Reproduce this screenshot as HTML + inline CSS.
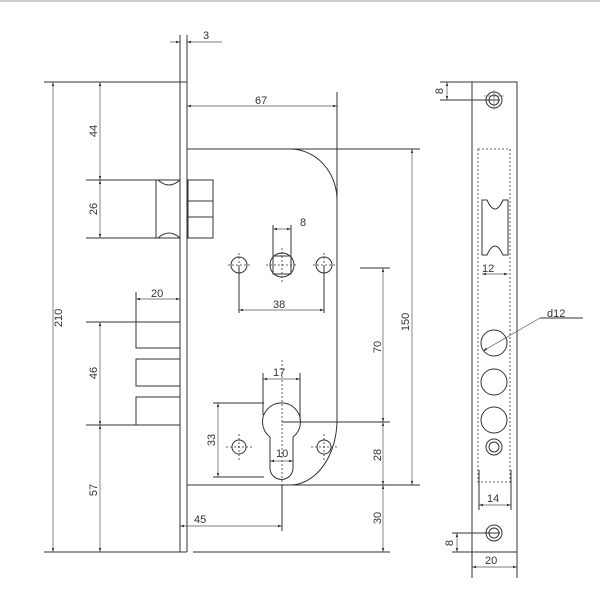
<!DOCTYPE html>
<html><head><meta charset="utf-8"><style>
html,body{margin:0;padding:0;background:#fff;}
svg{display:block}
text{font-family:"Liberation Sans",sans-serif;font-size:11px;fill:#333}
</style></head><body>
<svg width="600" height="600" viewBox="0 0 600 600" xmlns="http://www.w3.org/2000/svg">
<defs>
<marker id="a" viewBox="0 0 10 10" refX="10" refY="5" markerWidth="6" markerHeight="6" orient="auto-start-reverse"><path d="M0,2 L10,5 L0,8z" fill="#333"/></marker>
</defs>
<line x1="0" y1="1" x2="600" y2="1" stroke="#ccc" stroke-width="2"/>
<g stroke="#333" stroke-width="1" fill="none">
<!-- front plate -->
<line x1="180" y1="35" x2="180" y2="552"/>
<line x1="187" y1="35" x2="187" y2="552"/>
<!-- ext lines -->
<line x1="44" y1="82" x2="187" y2="82"/>
<line x1="44" y1="552" x2="187" y2="552"/>
<line x1="193" y1="552" x2="390" y2="552"/>
<!-- bolt -->
<line x1="86" y1="180" x2="180" y2="180"/>
<line x1="86" y1="238" x2="180" y2="238"/>
<line x1="156" y1="180" x2="156" y2="238"/>
<path d="M158,180 Q169,190 180,180 M158,238 Q169,228 180,238"/>
<rect x="188" y="180" width="25" height="58"/>
<line x1="188" y1="201" x2="213" y2="201"/><line x1="188" y1="217" x2="213" y2="217"/>
<!-- case -->
<path d="M187,149 H290 A47,51 0 0 1 337,200 V420 A47,65 0 0 1 290,485 H187"/>
<line x1="290" y1="149" x2="420" y2="149"/>
<line x1="290" y1="485" x2="420" y2="485"/>
<line x1="337" y1="92" x2="337" y2="200"/>
<!-- latches -->
<line x1="86" y1="322" x2="136" y2="322"/>
<line x1="86" y1="425" x2="136" y2="425"/>
<rect x="136" y="322" width="44" height="26"/>
<rect x="136" y="359" width="44" height="27"/>
<rect x="136" y="397" width="44" height="28"/>
<line x1="136" y1="292" x2="136" y2="322"/>
<!-- top holes -->
<circle cx="239" cy="265" r="8"/>
<circle cx="282" cy="265" r="12"/>
<rect x="273" y="256" width="18" height="18"/>
<circle cx="324" cy="265" r="8"/>
<line x1="239" y1="265" x2="239" y2="313"/>
<line x1="324" y1="265" x2="324" y2="313"/>
<line x1="273" y1="225" x2="273" y2="256"/>
<line x1="291" y1="225" x2="291" y2="256"/>
<!-- cylinder -->
<path d="M270,437 A19,19 0 1 1 293,437 V468 A11.5,11.5 0 0 1 270,468 Z"/>
<line x1="263" y1="373" x2="263" y2="415"/>
<line x1="300" y1="373" x2="300" y2="420"/>
<line x1="213" y1="403" x2="264" y2="403"/>
<line x1="213" y1="477" x2="264" y2="477"/>
<circle cx="239" cy="447" r="7"/>
<circle cx="324" cy="447" r="7"/>
<line x1="282" y1="422" x2="390" y2="422"/>
<line x1="282" y1="485" x2="282" y2="531"/>
<line x1="360" y1="268" x2="390" y2="268"/>
<!-- strip -->
<rect x="472" y="82" width="45" height="470"/>
<circle cx="494" cy="100" r="8"/><circle cx="494" cy="100" r="5"/>
<circle cx="494" cy="533" r="8"/><circle cx="494" cy="533" r="5"/>
<circle cx="494" cy="447" r="8"/><circle cx="494" cy="447" r="5"/>
<circle cx="494" cy="343" r="13"/>
<circle cx="494" cy="382" r="13"/>
<circle cx="494" cy="420" r="13"/>
<path d="M482,200 H487 Q495,218 503,200 H508 V255 H503 Q495,237 487,255 H482 Z"/>
<line x1="440" y1="82" x2="472" y2="82"/>
<line x1="440" y1="100" x2="500" y2="100"/>
<line x1="452" y1="533" x2="500" y2="533"/>
<line x1="452" y1="552" x2="472" y2="552"/>
<line x1="472" y1="552" x2="472" y2="578"/>
<line x1="517" y1="552" x2="517" y2="578"/>
<line x1="479" y1="470" x2="479" y2="510"/>
<line x1="511" y1="470" x2="511" y2="510"/>
<line x1="583" y1="318" x2="540" y2="318"/>
</g>
<g stroke="#333" stroke-width="0.8" stroke-dasharray="2,2" fill="none">
<rect x="478" y="149" width="32" height="333"/>
<line x1="282" y1="360" x2="282" y2="485"/>
<line x1="228" y1="265" x2="250" y2="265"/><line x1="239" y1="253" x2="239" y2="277"/>
<line x1="313" y1="265" x2="335" y2="265"/><line x1="324" y1="253" x2="324" y2="277"/>
<line x1="266" y1="265" x2="298" y2="265"/><line x1="282" y1="248" x2="282" y2="283"/>
<line x1="226" y1="447" x2="252" y2="447"/><line x1="239" y1="434" x2="239" y2="460"/>
<line x1="311" y1="447" x2="337" y2="447"/><line x1="324" y1="434" x2="324" y2="460"/>
</g>
<g stroke="#777" stroke-width="0.7" fill="none">
<line x1="484" y1="96" x2="504" y2="96"/><line x1="494" y1="90" x2="494" y2="110"/>
</g>
<g stroke="#555" stroke-width="0.7" fill="none" marker-start="url(#a)" marker-end="url(#a)">
<line x1="53" y1="82" x2="53" y2="552"/>
<line x1="100" y1="82" x2="100" y2="180"/>
<line x1="100" y1="180" x2="100" y2="238"/>
<line x1="100" y1="322" x2="100" y2="425"/>
<line x1="100" y1="425" x2="100" y2="552"/>
<line x1="136" y1="299" x2="180" y2="299"/>
<line x1="187" y1="106" x2="337" y2="106"/>
<line x1="273" y1="229" x2="291" y2="229"/>
<line x1="239" y1="310" x2="324" y2="310"/>
<line x1="263" y1="379" x2="300" y2="379"/>
<line x1="270" y1="461" x2="293" y2="461"/>
<line x1="218" y1="403" x2="218" y2="477"/>
<line x1="180" y1="526" x2="282" y2="526"/>
<line x1="383" y1="268" x2="383" y2="422"/>
<line x1="383" y1="422" x2="383" y2="485"/>
<line x1="383" y1="485" x2="383" y2="552"/>
<line x1="412" y1="149" x2="412" y2="485"/>
<line x1="447" y1="82" x2="447" y2="100"/>
<line x1="457" y1="533" x2="457" y2="552"/>
<line x1="472" y1="567" x2="517" y2="567"/>
<line x1="479" y1="505" x2="511" y2="505"/>
<line x1="482" y1="274" x2="508" y2="274"/>
</g>
<g stroke="#555" stroke-width="0.7" fill="none">
<line x1="170" y1="42" x2="180" y2="42" marker-end="url(#a)"/>
<line x1="222" y1="42" x2="187" y2="42" marker-end="url(#a)"/>
<line x1="540" y1="318" x2="483" y2="351" marker-end="url(#a)"/>
</g>
<text x="203" y="39">3</text>
<text x="255" y="104">67</text>
<text x="300" y="226">8</text>
<text x="273" y="308">38</text>
<text x="151" y="297">20</text>
<text x="273" y="376">17</text>
<text x="276" y="457">10</text>
<text x="194" y="523">45</text>
<text x="482" y="272">12</text>
<text x="487" y="502">14</text>
<text x="485" y="564">20</text>
<text x="547" y="317">d12</text>
<text transform="translate(62,318) rotate(-90)" text-anchor="middle">210</text>
<text transform="translate(97,131) rotate(-90)" text-anchor="middle">44</text>
<text transform="translate(97,209) rotate(-90)" text-anchor="middle">26</text>
<text transform="translate(97,373) rotate(-90)" text-anchor="middle">46</text>
<text transform="translate(97,490) rotate(-90)" text-anchor="middle">57</text>
<text transform="translate(215,440) rotate(-90)" text-anchor="middle">33</text>
<text transform="translate(381,347) rotate(-90)" text-anchor="middle">70</text>
<text transform="translate(381,455) rotate(-90)" text-anchor="middle">28</text>
<text transform="translate(381,518) rotate(-90)" text-anchor="middle">30</text>
<text transform="translate(409,322) rotate(-90)" text-anchor="middle">150</text>
<text transform="translate(443,91) rotate(-90)" text-anchor="middle">8</text>
<text transform="translate(453,543) rotate(-90)" text-anchor="middle">8</text>
</svg>
</body></html>
